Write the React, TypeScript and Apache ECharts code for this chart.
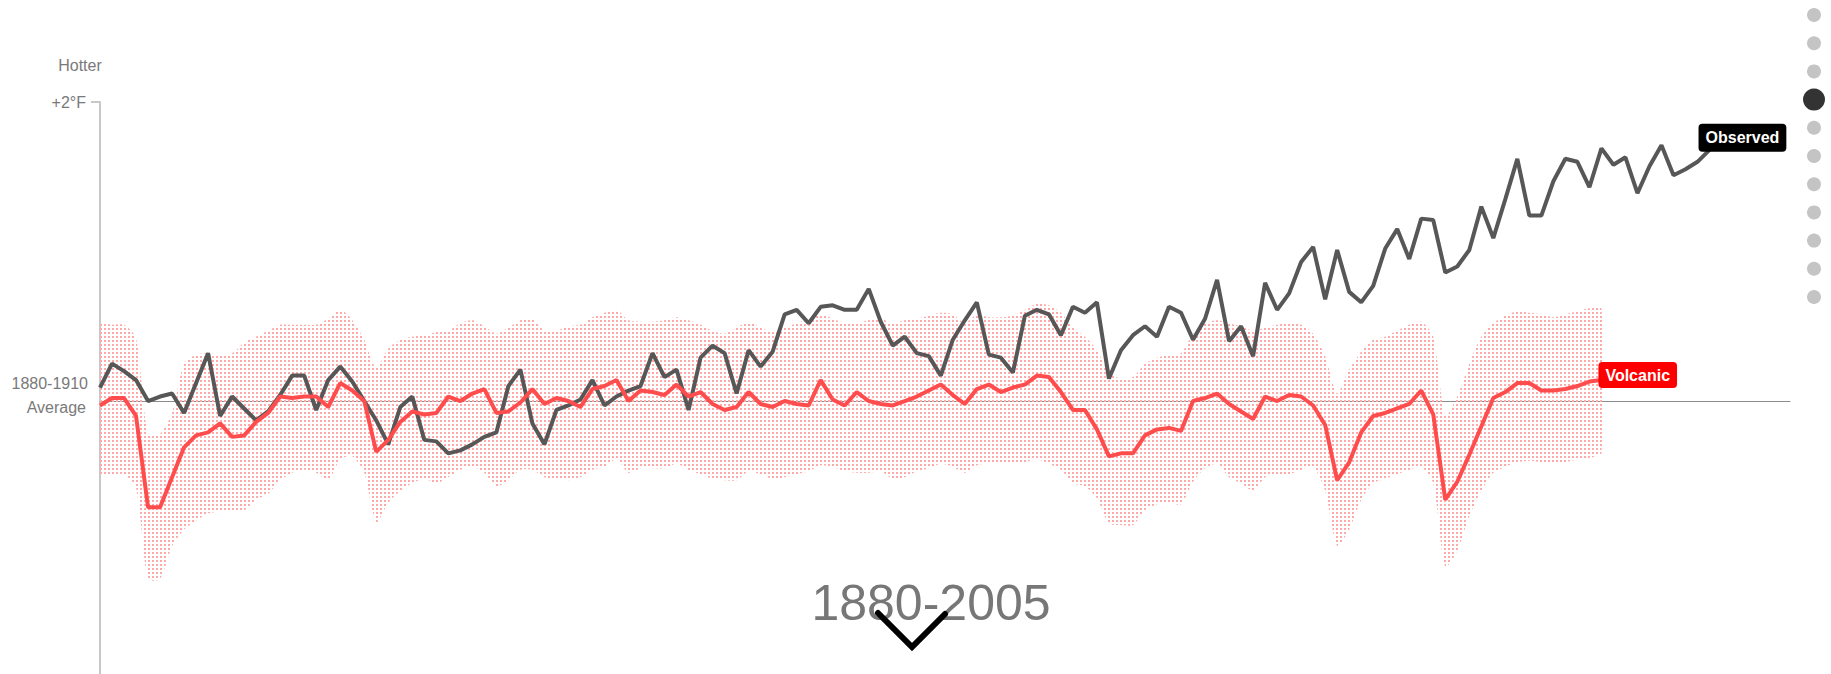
import React, { useEffect, useRef } from "react";
import * as echarts from "echarts";

const START_YEAR = 1880;

// Observed temperature anomaly, °F vs 1880-1910 average (1880-2014)
const observed = [
  0.09, 0.25, 0.2, 0.14, 0.0, 0.03, 0.05, -0.08, 0.12, 0.32,
  -0.1, 0.03, -0.05, -0.13, -0.07, 0.04, 0.17, 0.17, -0.06, 0.14,
  0.23, 0.13, 0.0, -0.13, -0.29, -0.04, 0.03, -0.26, -0.27, -0.35,
  -0.33, -0.29, -0.24, -0.21, 0.1, 0.21, -0.15, -0.29, -0.06, -0.03,
  0.01, 0.14, -0.03, 0.03, 0.07, 0.1, 0.32, 0.16, 0.21, -0.06,
  0.29, 0.37, 0.32, 0.05, 0.34, 0.23, 0.33, 0.58, 0.61, 0.52,
  0.63, 0.64, 0.61, 0.61, 0.75, 0.53, 0.37, 0.43, 0.32, 0.3,
  0.17, 0.41, 0.54, 0.66, 0.31, 0.29, 0.19, 0.57, 0.61, 0.58,
  0.44, 0.63, 0.59, 0.66, 0.15, 0.34, 0.44, 0.5, 0.43, 0.63,
  0.59, 0.41, 0.55, 0.81, 0.4, 0.5, 0.3, 0.79, 0.61, 0.72,
  0.93, 1.03, 0.68, 1.01, 0.73, 0.66, 0.77, 1.02, 1.15, 0.95,
  1.22, 1.21, 0.86, 0.9, 1.01, 1.3, 1.09, 1.35, 1.62, 1.24,
  1.24, 1.47, 1.62, 1.6, 1.43, 1.69, 1.58, 1.63, 1.39, 1.57,
  1.71, 1.51, 1.55, 1.6, 1.68,
];

// Volcanic forcing model response (1880-2005)
const volcanic = [
  -0.03, 0.02, 0.02, -0.1, -0.71, -0.71, -0.51, -0.31, -0.23, -0.21,
  -0.15, -0.24, -0.23, -0.14, -0.08, 0.03, 0.02, 0.03, 0.03, -0.04,
  0.12, 0.07, 0.0, -0.34, -0.26, -0.14, -0.07, -0.09, -0.08, 0.03,
  0.0, 0.05, 0.08, -0.08, -0.07, -0.01, 0.08, -0.02, 0.02, 0.0,
  -0.04, 0.08, 0.1, 0.14, 0.0, 0.07, 0.06, 0.04, 0.11, 0.03,
  0.06, -0.02, -0.06, -0.04, 0.06, -0.02, -0.04, 0.0, -0.02, -0.03,
  0.14, 0.01, -0.03, 0.06, 0.0, -0.02, -0.03, 0.0, 0.03, 0.07,
  0.11, 0.04, -0.02, 0.08, 0.11, 0.06, 0.09, 0.11, 0.17, 0.16,
  0.06, -0.06, -0.06, -0.19, -0.37, -0.35, -0.35, -0.23, -0.19, -0.18,
  -0.2, 0.0, 0.02, 0.05, -0.02, -0.07, -0.12, 0.03, 0.0, 0.04,
  0.03, -0.03, -0.16, -0.53, -0.41, -0.21, -0.1, -0.08, -0.05, -0.02,
  0.07, -0.09, -0.66, -0.54, -0.36, -0.17, 0.02, 0.06, 0.12, 0.12,
  0.07, 0.07, 0.08, 0.1, 0.13, 0.14,
];

// Upper edge of the volcanic uncertainty range (1880-2005)
const bandUpper = [
  0.51, 0.51, 0.51, 0.42, -0.22, -0.22, -0.08, 0.25, 0.31, 0.32,
  0.31, 0.32, 0.39, 0.43, 0.47, 0.51, 0.51, 0.51, 0.51, 0.55,
  0.61, 0.54, 0.41, 0.22, 0.35, 0.41, 0.43, 0.44, 0.46, 0.47,
  0.52, 0.54, 0.5, 0.45, 0.49, 0.54, 0.55, 0.47, 0.47, 0.5,
  0.51, 0.56, 0.59, 0.61, 0.54, 0.53, 0.53, 0.54, 0.56, 0.54,
  0.51, 0.47, 0.45, 0.49, 0.53, 0.49, 0.46, 0.49, 0.52, 0.55,
  0.58, 0.55, 0.52, 0.52, 0.54, 0.55, 0.52, 0.54, 0.55, 0.57,
  0.59, 0.58, 0.52, 0.58, 0.56, 0.56, 0.57, 0.61, 0.65, 0.64,
  0.59, 0.49, 0.43, 0.34, 0.19, 0.15, 0.16, 0.25, 0.29, 0.31,
  0.32, 0.45, 0.52, 0.54, 0.52, 0.5, 0.47, 0.49, 0.51, 0.52,
  0.51, 0.45, 0.3, 0.05, 0.21, 0.33, 0.41, 0.43, 0.47, 0.51,
  0.53, 0.43, -0.1, 0.03, 0.25, 0.43, 0.52, 0.57, 0.6, 0.59,
  0.58, 0.56, 0.58, 0.6, 0.62, 0.62,
];

// Lower edge of the volcanic uncertainty range (1880-2005)
const bandLower = [
  -0.49, -0.49, -0.49, -0.58, -1.19, -1.19, -0.97, -0.86, -0.8, -0.75,
  -0.74, -0.73, -0.73, -0.66, -0.62, -0.53, -0.48, -0.46, -0.48, -0.53,
  -0.39, -0.37, -0.48, -0.81, -0.68, -0.6, -0.55, -0.52, -0.55, -0.51,
  -0.46, -0.44, -0.48, -0.57, -0.53, -0.46, -0.46, -0.51, -0.52, -0.53,
  -0.51, -0.46, -0.44, -0.39, -0.48, -0.45, -0.45, -0.45, -0.42, -0.46,
  -0.49, -0.52, -0.53, -0.53, -0.47, -0.49, -0.52, -0.51, -0.49, -0.47,
  -0.43, -0.44, -0.47, -0.48, -0.48, -0.47, -0.52, -0.51, -0.47, -0.45,
  -0.42, -0.44, -0.48, -0.43, -0.42, -0.42, -0.42, -0.41, -0.39, -0.42,
  -0.46, -0.55, -0.57, -0.65, -0.82, -0.83, -0.83, -0.73, -0.69, -0.68,
  -0.69, -0.54, -0.45, -0.42, -0.51, -0.55, -0.6, -0.51, -0.49, -0.49,
  -0.46, -0.44, -0.6, -0.97, -0.86, -0.66, -0.55, -0.52, -0.49, -0.46,
  -0.44, -0.55, -1.11, -1.0, -0.77, -0.6, -0.48, -0.44, -0.41, -0.4,
  -0.41, -0.42, -0.41, -0.39, -0.38, -0.35,
];

const periodLabel = "1880-2005";
const yTopLabel = "+2°F";
const navDots = [0, 1, 2, 3, 4, 5, 6, 7, 8, 9, 10];
const activeDot = 3;

const FONT = "'Liberation Sans', Arial, Helvetica, sans-serif";

export default function App() {
  const ref = useRef<HTMLDivElement>(null);

  useEffect(() => {
    const el = ref.current;
    if (!el) return;
    const chart = echarts.init(el, null, { renderer: "svg" });

    const yr = (i: number) => START_YEAR + i;
    const obsData = observed.map((v, i) => [yr(i), v]);
    const volData = volcanic.map((v, i) => [yr(i), v]);
    const lowData = bandLower.map((v, i) => [yr(i), v]);
    const upData = bandUpper.map((v, i) => [yr(i), v]);

    // dotted uncertainty band: one polygon, upper edge forward, lower edge back
    const bandItems = [[0]];
    const renderDots = (params: any, api: any) => {
      const pts: number[][] = [];
      for (let i = 0; i < upData.length; i++) pts.push(api.coord(upData[i]));
      for (let i = lowData.length - 1; i >= 0; i--) pts.push(api.coord(lowData[i]));
      const cv = document.createElement("canvas");
      cv.width = 4;
      cv.height = 4;
      const ctx = cv.getContext("2d");
      if (ctx) {
        ctx.fillStyle = "#ffa8a8";
        ctx.fillRect(0, 0, 2, 2);
      }
      return {
        type: "polygon",
        shape: { points: pts, smooth: 0.25 },
        style: { fill: { image: cv, repeat: "repeat", imageWidth: 4, imageHeight: 4 }, stroke: null },
        silent: true,
      };
    };

    const graphics: any[] = [
      {
        type: "text",
        x: 80,
        y: 65,
        style: { text: "Hotter", fill: "#7a7a7a", font: `16px ${FONT}`, align: "center", verticalAlign: "middle" },
      },
      {
        type: "text",
        x: 88,
        y: 383,
        style: { text: "1880-1910", fill: "#7a7a7a", font: `16px ${FONT}`, align: "right", verticalAlign: "middle" },
      },
      {
        type: "text",
        x: 86,
        y: 407,
        style: { text: "Average", fill: "#7a7a7a", font: `16px ${FONT}`, align: "right", verticalAlign: "middle" },
      },
      {
        type: "text",
        x: 931,
        y: 603,
        z: 100,
        style: { text: periodLabel, fill: "#777", font: `50px ${FONT}`, align: "center", verticalAlign: "middle" },
      },
      {
        type: "polyline",
        z: 101,
        shape: { points: [[878, 613], [912, 647], [945, 614]] },
        style: { stroke: "#000", lineWidth: 6, fill: null, lineCap: "round", lineJoin: "miter" },
      },
    ];
    navDots.forEach((d) => {
      const active = d === activeDot;
      graphics.push({
        type: "circle",
        z: 100,
        shape: { cx: 1814, cy: 15 + d * 28.2, r: active ? 11 : 7 },
        style: { fill: active ? "#333" : "#c4c4c4" },
      });
    });

    chart.setOption({
      animation: false,
      textStyle: { fontFamily: FONT },
      grid: { left: 100, right: 41, top: 102, bottom: 0, containLabel: false },
      xAxis: {
        type: "value",
        min: 1880,
        max: 2020.7,
        axisLine: { show: true, onZero: true, lineStyle: { color: "#8c8c8c", width: 1 } },
        axisTick: { show: false },
        axisLabel: { show: false },
        splitLine: { show: false },
      },
      yAxis: {
        type: "value",
        min: -1.826,
        max: 2,
        axisLine: { show: true, lineStyle: { color: "#c8c8c8", width: 2 } },
        axisTick: { show: true, customValues: [2], length: 9, lineStyle: { color: "#c8c8c8", width: 2 } },
        axisLabel: {
          show: true,
          customValues: [2],
          formatter: () => yTopLabel,
          margin: 14,
          color: "#7a7a7a",
          fontSize: 16,
          fontFamily: FONT,
        },
        splitLine: { show: false },
      },
      graphic: graphics,
      series: [
        {
          type: "custom",
          name: "bandDots",
          data: bandItems,
          renderItem: renderDots,
          silent: true,
          z: 2,
        },
        {
          type: "line",
          name: "Observed",
          data: obsData,
          symbol: "none",
          lineStyle: { color: "#575757", width: 4 },
          z: 3,
          endLabel: {
            show: true,
            formatter: "Observed",
            color: "#fff",
            fontWeight: "bold",
            fontSize: 16,
            fontFamily: FONT,
            backgroundColor: "#000",
            borderRadius: 4,
            padding: [6, 7],
            offset: [-19, -12],
          },
        },
        {
          type: "line",
          name: "Volcanic",
          data: volData,
          symbol: "none",
          lineStyle: { color: "#ff4d4d", width: 4 },
          z: 4,
          endLabel: {
            show: true,
            formatter: "Volcanic",
            color: "#fff",
            fontWeight: "bold",
            fontSize: 16,
            fontFamily: FONT,
            backgroundColor: "#ff0000",
            borderRadius: 4,
            padding: [5, 7],
            offset: [-11, -5],
          },
        },
      ],
    });

    return () => chart.dispose();
  }, []);

  return (
    <div
      ref={ref}
      style={{ position: "fixed", left: 0, top: 0, width: 1831, height: 674, background: "#fff" }}
    />
  );
}
